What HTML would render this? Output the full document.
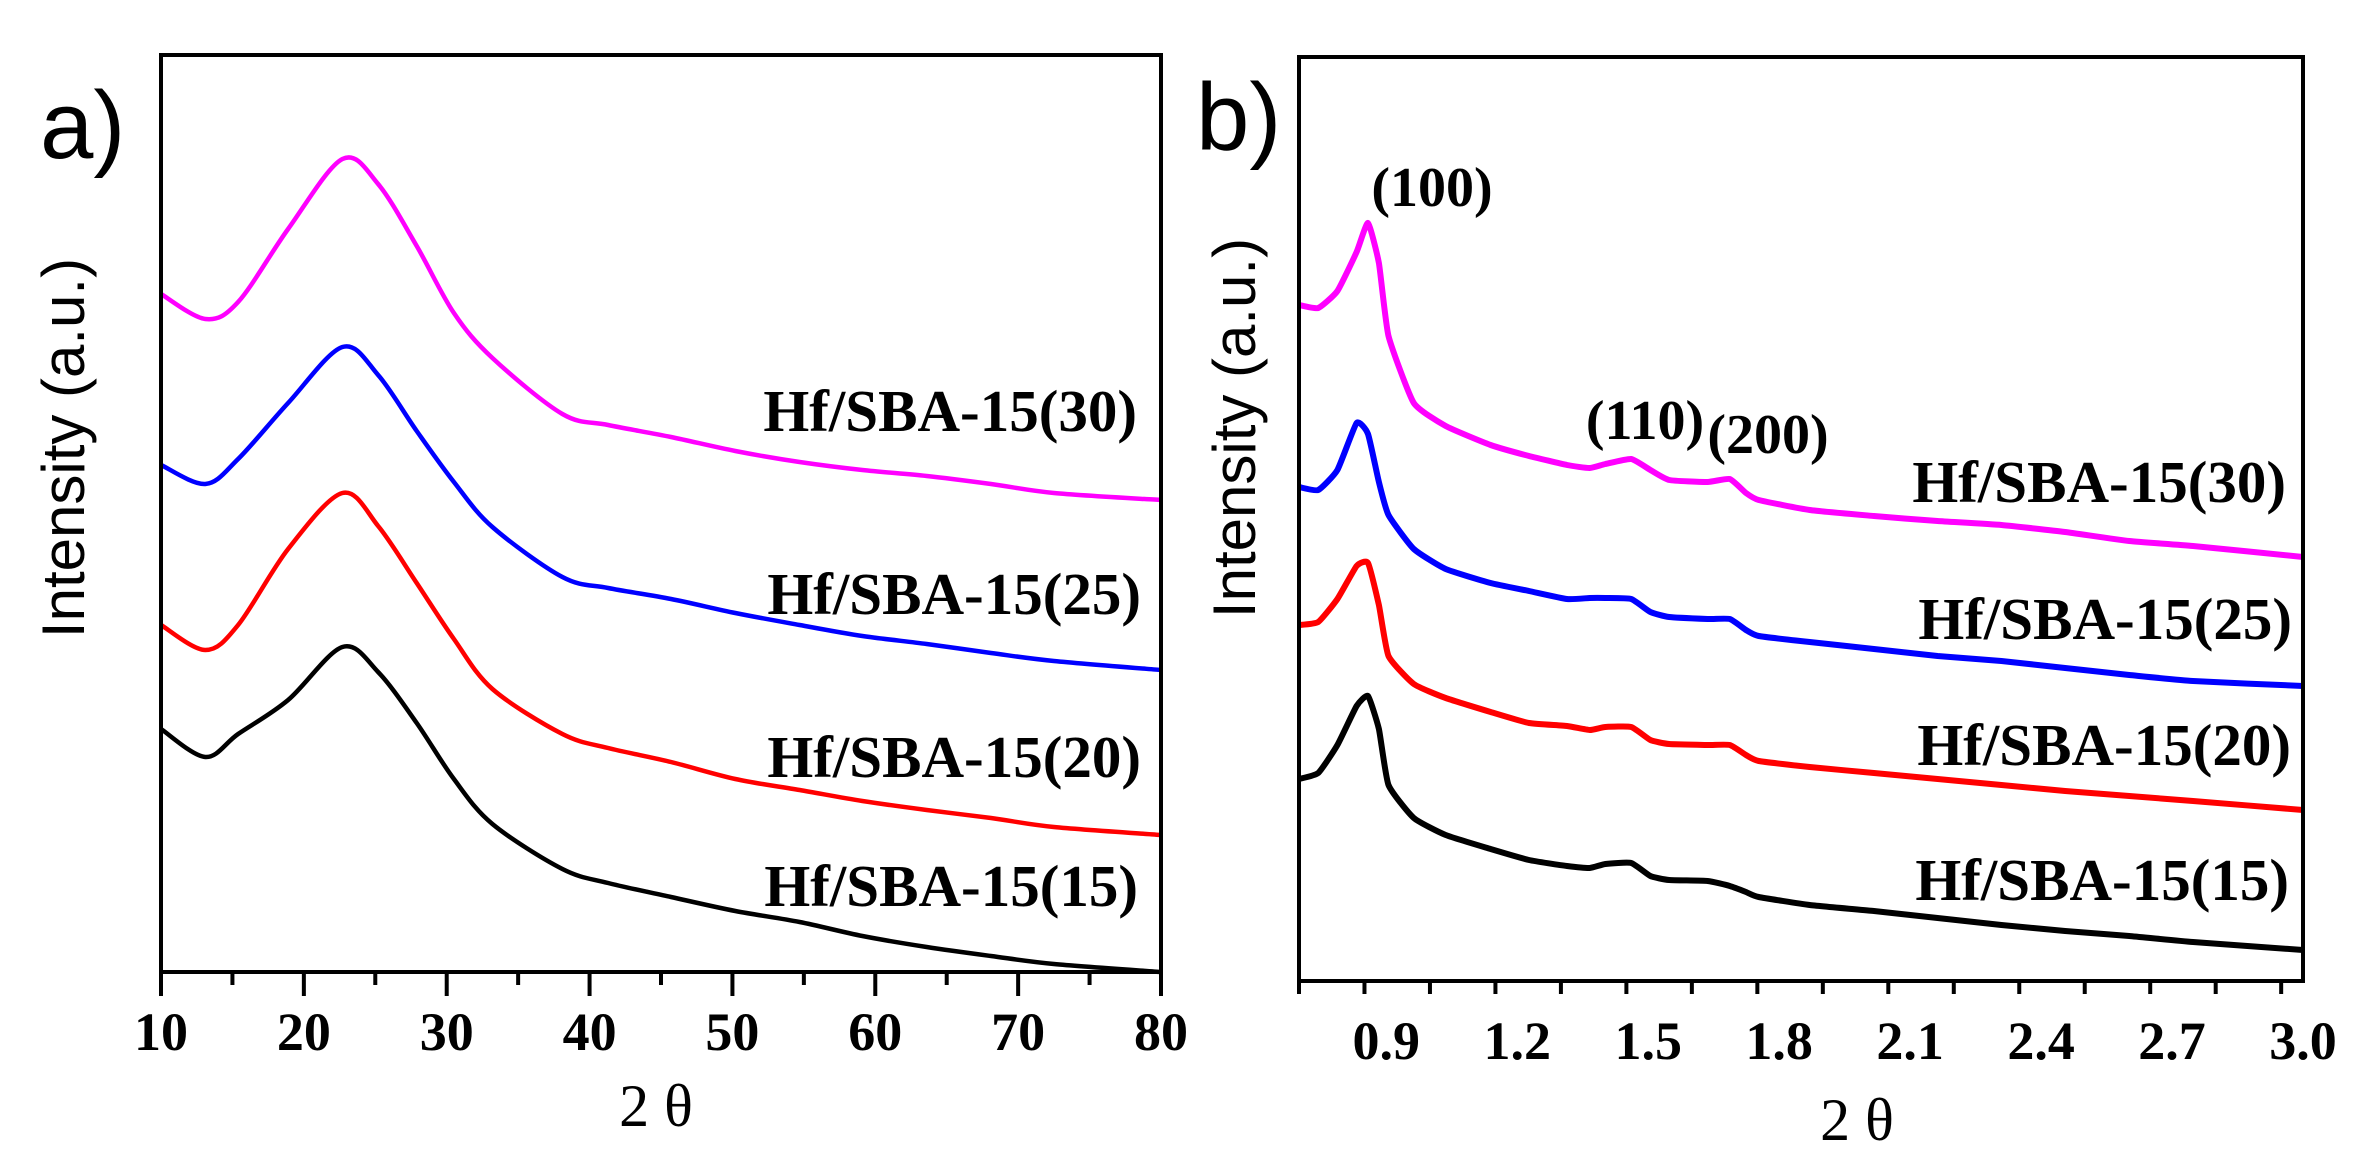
<!DOCTYPE html>
<html><head><meta charset="utf-8"><style>
html,body{margin:0;padding:0;background:#fff;}
svg{display:block;}
.tick{font-family:"Liberation Serif",serif;font-weight:bold;font-size:54px;fill:#000;}
.lbl{font-family:"Liberation Serif",serif;font-weight:bold;font-size:59px;fill:#000;}
.plbl{font-family:"Liberation Serif",serif;font-weight:bold;font-size:56px;fill:#000;}
.ytitle{font-family:"Liberation Sans",sans-serif;font-size:60px;fill:#000;}
.panel{font-family:"Liberation Sans",sans-serif;font-size:96px;fill:#000;}
.xt{font-family:"Liberation Serif",serif;font-size:60px;fill:#000;}
</style></head><body>
<svg id="fig" width="2376" height="1170" viewBox="0 0 2376 1170" xmlns="http://www.w3.org/2000/svg">
<rect width="2376" height="1170" fill="#fff"/>
<g id="pa"></g>
<g id="pb"></g>
<text class="panel" x="40" y="158">a)</text>
<text class="panel" x="1196" y="150">b)</text>
<text class="ytitle" transform="translate(84,448) rotate(-90)" text-anchor="middle">Intensity (a.u.)</text>
<text class="ytitle" transform="translate(1255,428) rotate(-90)" text-anchor="middle">Intensity (a.u.)</text>
<text class="xt" x="656" y="1126" text-anchor="middle">2 θ</text>
<text class="xt" x="1857" y="1140" text-anchor="middle">2 θ</text>
</svg>
<script>
// Panel a data (wide-angle XRD)
const aX = [10,13.1,15.4,18.9,22.7,25.2,27.9,30.5,33.2,38.1,41.3,45.7,50.2,54.7,59.1,63.6,68.1,72.5,80];
const a30 = [678,653,670,743,813,788,726,659,614,558,547,535,521,510,502,496,488,479,472];
const a25 = [507,488,513,569,625,597,541,490,445,395,384,373,359,347,336,328,319,311,302];
const a20 = [347,322,347,423,479,446,389,333,283,238,224,210,193,182,171,162,154,145,137];
const a15 = [243,215,238,272,325,300,249,193,148,103,89,75,61,50,36,25,16,8,0];
const aTicks = [10,20,30,40,50,60,70,80];
// Panel b data (small-angle XRD)
const bX = [0.70,0.744,0.788,0.832,0.858,0.883,0.905,0.963,1.036,1.139,1.227,1.314,1.366,1.402,1.461,1.505,1.548,1.636,1.687,1.724,1.753,1.870,2.017,2.163,2.309,2.455,2.602,2.748,3.0];
const b30 = [676,673,690,729,758,718,645,578,555,536,525,516,513,517,522,511,501,499,502,488,481,471,465,460,456,449,440,435,424];
const b25 = [494,491,511,558,547,499,466,432,412,398,390,382,383,383,382,369,364,362,362,351,345,339,332,325,320,313,306,300,295];
const b20 = [356,359,382,415,418,376,325,297,283,269,258,255,251,254,254,241,237,236,236,226,220,214,208,202,196,190,185,180,171];
const b15 = [202,208,236,275,285,252,196,163,146,132,121,115,113,117,118,105,101,100,95,89,84,76,70,63,56,50,45,39,31];
const bTicks = ["0.9","1.2","1.5","1.8","2.1","2.4","2.7","3.0"];
const seriesNames = ["Hf/SBA-15(30)","Hf/SBA-15(25)","Hf/SBA-15(20)","Hf/SBA-15(15)"];
const colors = ["#ff00ff","#0000ff","#ff0000","#000000"];

const NS="http://www.w3.org/2000/svg";
function mk(tag,attrs,parent){const e=document.createElementNS(NS,tag);for(const k in attrs)e.setAttribute(k,attrs[k]);parent.appendChild(e);return e;}

function smoothPath(pts,t){
  let d="M"+pts[0][0].toFixed(1)+","+pts[0][1].toFixed(1);
  for(let i=0;i<pts.length-1;i++){
    const p0=pts[Math.max(0,i-1)],p1=pts[i],p2=pts[i+1],p3=pts[Math.min(pts.length-1,i+2)];
    const c1=[p1[0]+(p2[0]-p0[0])*t,p1[1]+(p2[1]-p0[1])*t];
    const c2=[p2[0]-(p3[0]-p1[0])*t,p2[1]-(p3[1]-p1[1])*t];
    d+="C"+c1[0].toFixed(1)+","+c1[1].toFixed(1)+" "+c2[0].toFixed(1)+","+c2[1].toFixed(1)+" "+p2[0].toFixed(1)+","+p2[1].toFixed(1);
  }
  return d;
}

function panel(g,L,R,T,B,xmin,xmax,ymax,X,series,sw,tension,minorStep,majorVals,majorLabels,labelPos,peakLabels){
  const sx=v=>L+(v-xmin)/(xmax-xmin)*(R-L);
  const sy=v=>B-v/ymax*(B-T);
  series.forEach((s,i)=>{
    const pts=s.map((v,j)=>[sx(X[j]),sy(v)]);
    const p=mk("path",{d:smoothPath(pts,tension),fill:"none",stroke:colors[i],"stroke-width":sw,"stroke-linejoin":"round"},g);
    
    
  });
  const fr=mk("rect",{x:L,y:T,width:R-L,height:B-T,fill:"none",stroke:"#000","stroke-width":4},g);
  
  
  for(let v=xmin;v<=xmax+1e-9;v+=minorStep){
    const isMajor=majorVals.some(m=>Math.abs(m-v)<1e-6);
    const t=mk("line",{x1:sx(v),x2:sx(v),y1:B,y2:B+(isMajor?24:13),stroke:"#000","stroke-width":4},g);
    
    
  }
  majorVals.forEach((m,i)=>{
    const t=mk("text",{x:sx(m),y:B+78,"text-anchor":"middle",class:"tick"},g);
    t.textContent=majorLabels[i];
    
    
  });
  labelPos.forEach((p,i)=>{
    const t=mk("text",{x:p[0],y:p[1]+20,"text-anchor":"end",class:"lbl"},g);
    t.textContent=seriesNames[i];
    
    
  });
  (peakLabels||[]).forEach(p=>{
    const t=mk("text",{x:p[1],y:p[2]+19,"text-anchor":"middle",class:"plbl"},g);
    t.textContent=p[0];
    
    
  });
}
panel(document.getElementById('pa'),161,1161,55,972,10,80,917,aX,[a30,a25,a20,a15],4.5,0.16,5,aTicks,aTicks.map(String),
  [[1137,411],[1141,594],[1141,757],[1138,886]]);
panel(document.getElementById('pb'),1299,2303,57,981,0.7,3.0,924,bX,[b30,b25,b20,b15],6,0.08,0.15,bTicks.map(Number),bTicks,
  [[2286,482],[2292,619],[2291,745],[2289,880]],
  [["(100)",1432,187],["(110)",1645,420],["(200)",1768,434]]);
</script>
</body></html>
